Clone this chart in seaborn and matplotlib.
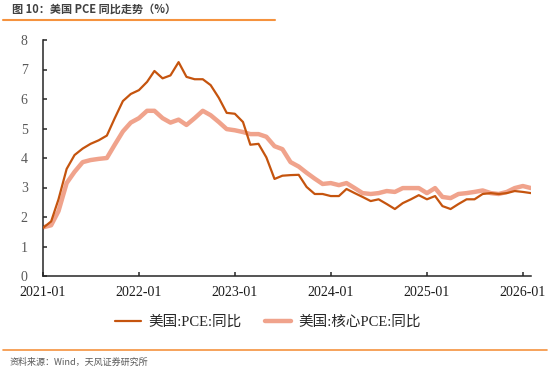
import matplotlib
matplotlib.use("Agg")
import matplotlib.pyplot as plt
import matplotlib.dates as mdates
import numpy as np
import pandas as pd
import seaborn as sns

# monthly data, 2021-01 .. 2026-02
months = pd.date_range("2021-01-01", "2026-02-01", freq="MS")

pce_yoy = [
    1.63, 1.85, 2.60, 3.63, 4.10, 4.32, 4.48, 4.60, 4.76, 5.35, 5.93, 6.17,
    6.30, 6.58, 6.95, 6.70, 6.80, 7.25, 6.75, 6.67, 6.67, 6.47, 6.04, 5.53,
    5.50, 5.22, 4.45, 4.48, 4.02, 3.29, 3.40, 3.42, 3.43, 3.02, 2.78, 2.78,
    2.71, 2.71, 2.95, 2.81, 2.68, 2.54, 2.60, 2.44, 2.27, 2.47, 2.60, 2.74,
    2.60, 2.71, 2.37, 2.27, 2.44, 2.60, 2.60, 2.78, 2.81, 2.78, 2.81, 2.88,
    2.85, 2.81,
]
core_pce_yoy = [
    1.65, 1.72, 2.20, 3.15, 3.53, 3.86, 3.93, 3.97, 4.00, 4.45, 4.90, 5.20,
    5.35, 5.60, 5.60, 5.35, 5.20, 5.30, 5.12, 5.35, 5.60, 5.45, 5.22, 4.98,
    4.94, 4.88, 4.81, 4.81, 4.72, 4.40, 4.30, 3.86, 3.71, 3.50, 3.30, 3.12,
    3.15, 3.08, 3.15, 2.98, 2.81, 2.78, 2.81, 2.88, 2.85, 2.98, 2.98, 2.98,
    2.81, 2.98, 2.68, 2.64, 2.78, 2.81, 2.85, 2.90, 2.81, 2.78, 2.85, 2.98,
    3.05, 2.98,
]
labels = ["美国:PCE:同比", "美国:核心PCE:同比"]

df = pd.DataFrame({"date": months, "pce": pce_yoy, "core": core_pce_yoy})

sns.set_theme(style="ticks")
plt.rcParams["font.family"] = ["Liberation Serif", "Noto Sans CJK SC"]

fig = plt.figure(figsize=(5.5, 3.73), dpi=100)
ax = fig.add_axes([43 / 550, 1 - 276 / 373, (531 - 43) / 550, (276 - 40) / 373])

sns.lineplot(data=df, x="date", y="core", ax=ax, color="#F0A38C", linewidth=3.2,
             label=labels[1], zorder=2)
sns.lineplot(data=df, x="date", y="pce", ax=ax, color="#C5540E", linewidth=1.6,
             label=labels[0], zorder=3)

ax.set_xlim(months[0], months[-1])
ax.set_ylim(0, 8)
ax.set_yticks(range(0, 9))
ax.set_xticks(pd.date_range("2021-01-01", "2026-01-01", freq="YS"))
ax.xaxis.set_major_formatter(mdates.DateFormatter("%Y-%m"))
ax.set_xlabel("")
ax.set_ylabel("")

for side in ["top", "right"]:
    ax.spines[side].set_visible(False)
for side in ["left", "bottom"]:
    ax.spines[side].set_color("#262626")
    ax.spines[side].set_linewidth(1.1)

ax.tick_params(axis="y", direction="in", length=3, width=1.1, color="#262626",
               labelsize=10, labelcolor="#595959", pad=11)
ax.tick_params(axis="x", direction="in", length=3, width=1.1, color="#262626",
               labelsize=10, labelcolor="#1a1a1a", pad=7)

# legend below the plot, headline first
handles, labs = ax.get_legend_handles_labels()
ax.get_legend().remove()
order = [labs.index(labels[0]), labs.index(labels[1])]
fig.legend([handles[i] for i in order], [labs[i] for i in order],
           loc="center", bbox_to_anchor=(0.487, 1 - 322 / 373), ncol=2,
           frameon=False, fontsize=10.5, handlelength=1.8, columnspacing=1.6,
           handletextpad=0.5)

# title and source
fig.text(12 / 550, 1 - 9 / 373, "图 10：美国 PCE 同比走势（%）", fontsize=8,
         fontweight="bold", color="#404040", va="center", ha="left",
         family=["Noto Sans CJK SC", "DejaVu Sans"])
fig.add_artist(plt.Line2D([3 / 550, 275 / 550], [1 - 19.5 / 373] * 2,
                          color="#F5923E", linewidth=1.5))
fig.add_artist(plt.Line2D([3 / 550, 547 / 550], [1 - 350 / 373] * 2,
                          color="#F5923E", linewidth=1.2))
fig.text(10 / 550, 1 - 362 / 373, "资料来源：Wind，天风证券研究所", fontsize=6.5,
         color="#595959", va="center", ha="left",
         family=["Noto Sans CJK SC", "DejaVu Sans"])

fig.savefig("out.png", dpi=100)
